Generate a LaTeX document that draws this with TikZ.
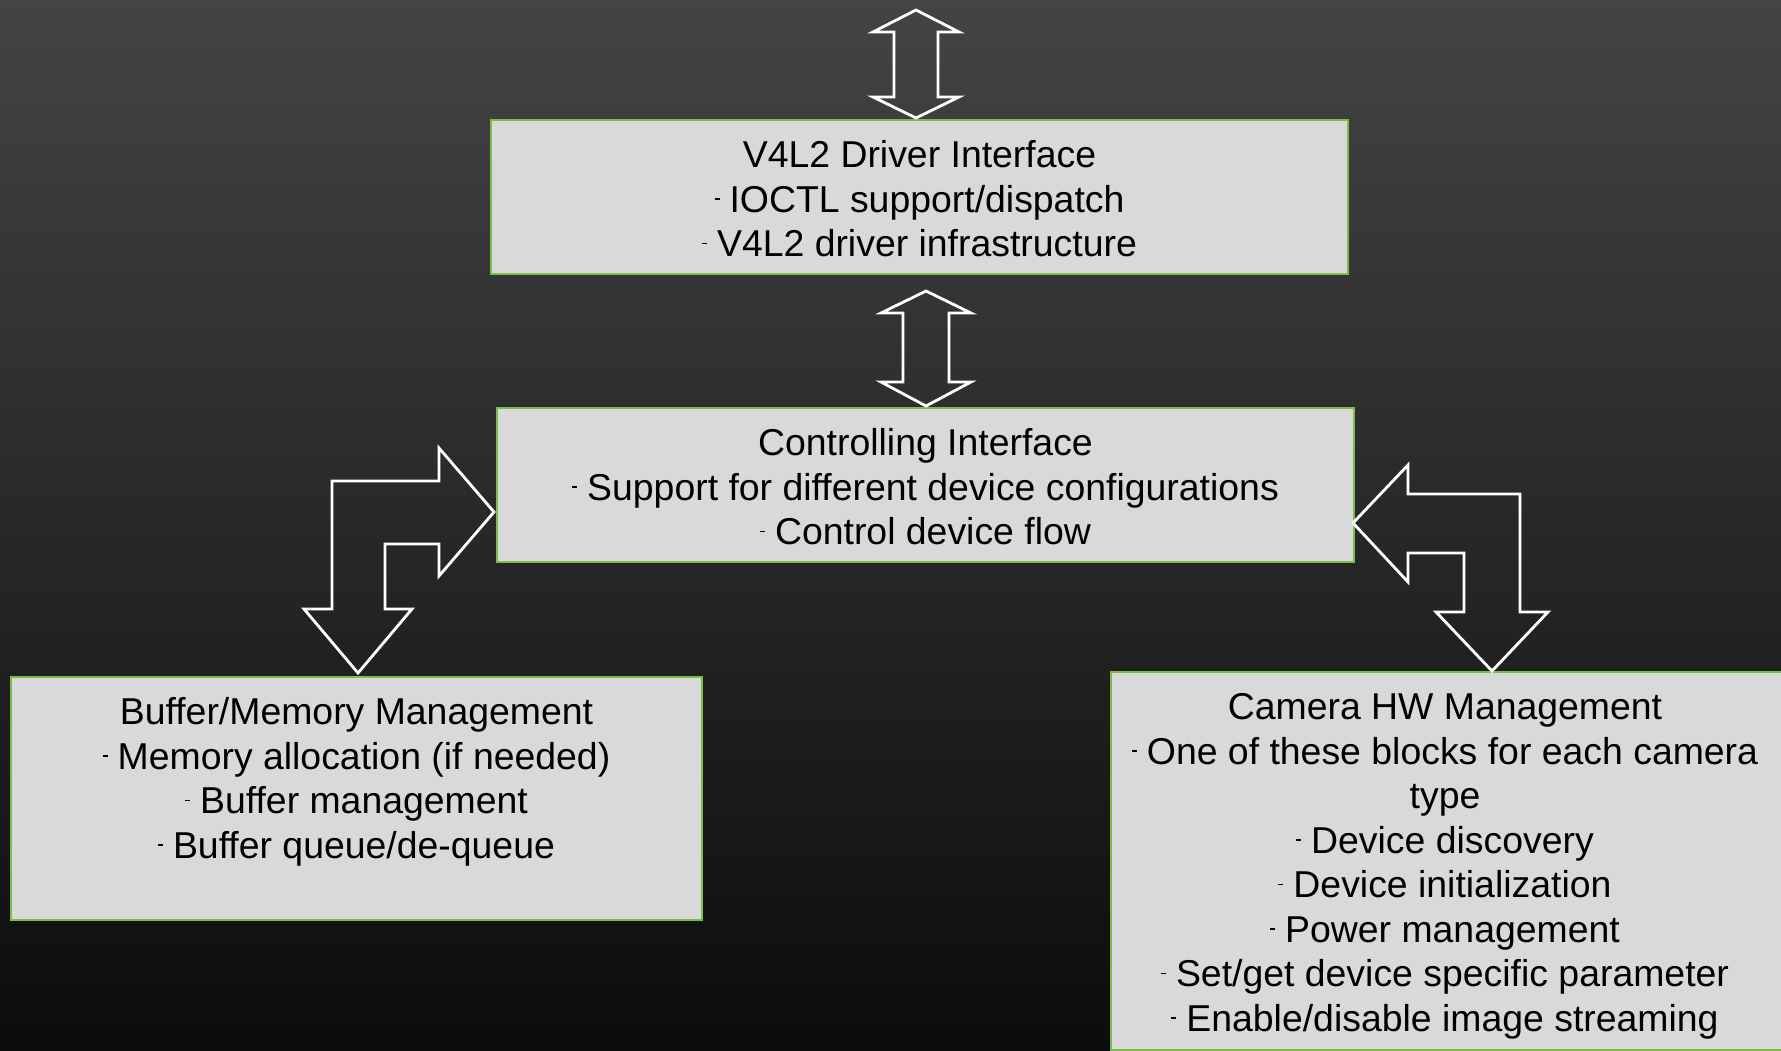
\documentclass[tikz,border=0pt]{standalone}
\usepackage{fontspec}
\setmainfont{Liberation Sans}
\definecolor{bgtop}{RGB}{68,68,68}
\definecolor{bgbot}{RGB}{12,12,12}
\definecolor{boxgray}{RGB}{217,217,217}
\definecolor{boxgreen}{RGB}{122,190,72}
% small raised dash used in front of each list item
\newcommand\itemdash{\rule[12.5pt]{5pt}{1.5pt}\hspace{10pt}}
\newcommand\firstline{\rule{0pt}{30pt}}
\tikzset{
  blockbox/.style={draw=boxgreen, line width=2pt, fill=boxgray},
  blocktext/.style={font=\fontsize{37.4}{44.5}\selectfont, align=center,
                    inner sep=0pt, anchor=north, text=black},
  blockarrow/.style={draw=white, line width=2.8pt, line join=miter},
}
\begin{document}
\begin{tikzpicture}[x=1pt, y=-1pt]
  \useasboundingbox (0,0) rectangle (1781,1051);
  \clip (0,0) rectangle (1781,1051);
  % background
  \shade[top color=bgtop, bottom color=bgbot] (0,0) rectangle (1781,1051);

  % blocks
  \draw[blockbox] (491,120) rectangle (1348,274);
  \coordinate (drv) at (919.5,120);
  \draw[blockbox] (497,408) rectangle (1354,562);
  \coordinate (ctl) at (925.5,408);
  \draw[blockbox] (11,677) rectangle (702,920);
  \coordinate (buf) at (356.5,677);
  \draw[blockbox] (1111,672) rectangle (1800,1049.5);
  \coordinate (cam) at (1445,672);

  % block texts
  \node[blocktext] (drvtext) at ([yshift=-17.5pt]drv)
    {\firstline V4L2 Driver Interface\\
     \itemdash IOCTL support/dispatch\\
     \itemdash V4L2 driver infrastructure};
  \node[blocktext] (ctltext) at ([yshift=-17.5pt]ctl)
    {\firstline Controlling Interface\\
     \itemdash Support for different device configurations\\
     \itemdash Control device flow};
  \node[blocktext] (buftext) at ([yshift=-17.5pt]buf)
    {\firstline Buffer/Memory Management\\
     \itemdash Memory allocation (if needed)\\
     \itemdash Buffer management\\
     \itemdash Buffer queue/de-queue};
  \node[blocktext] (camtext) at ([yshift=-17.5pt]cam)
    {\firstline Camera HW Management\\
     \itemdash One of these blocks for each camera\\
     type\\
     \itemdash Device discovery\\
     \itemdash Device initialization\\
     \itemdash Power management\\
     \itemdash Set/get device specific parameter\\
     \itemdash Enable/disable image streaming};

  % double arrow above the driver interface
  \draw[blockarrow] (916,10) -- (959,32) -- (938,32) -- (938,97) -- (959,97)
    -- (916,118) -- (873,97) -- (894,97) -- (894,32) -- (873,32) -- cycle;
  % double arrow between driver interface and controlling interface
  \draw[blockarrow] (926,291) -- (971,313) -- (949,313) -- (949,382) -- (971,382)
    -- (926,406) -- (881,382) -- (903,382) -- (903,313) -- (881,313) -- cycle;
  % bent arrow to buffer management
  \draw[blockarrow] (332,481) -- (439,481) -- (439,448) -- (494,512) -- (439,576)
    -- (439,544) -- (385,544) -- (385,609) -- (412,609) -- (358,673)
    -- (304,609) -- (332,609) -- cycle;
  % bent arrow to camera management
  \draw[blockarrow] (1353,523) -- (1408,465) -- (1408,494) -- (1520,494)
    -- (1520,612) -- (1548,612) -- (1492,671) -- (1436,612) -- (1464,612)
    -- (1464,553) -- (1408,553) -- (1408,582) -- cycle;
\end{tikzpicture}
\end{document}
